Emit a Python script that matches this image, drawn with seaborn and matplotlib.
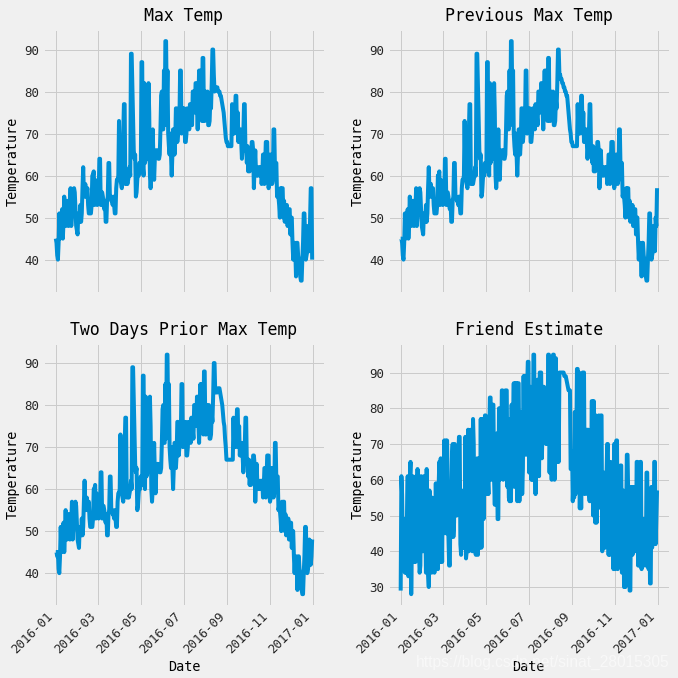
import matplotlib
matplotlib.use("Agg")
import matplotlib.pyplot as plt
import matplotlib.dates as mdates
import pandas as pd
import seaborn as sns

max_temp = [
45,44,41,40,44,51,45,48,50,52,
45,49,55,49,48,54,50,54,48,52,
52,57,48,51,54,56,57,56,52,48,
47,46,51,49,49,53,49,51,57,62,
56,55,58,55,56,57,53,51,51,51,
51,53,60,60,61,53,59,57,55,53,
57,55,64,64,53,56,56,55,53,52,
54,49,49,54,55,63,63,55,55,54,
54,53,55,53,51,51,57,59,59,60,
73,62,59,58,57,60,70,77,77,58,
58,59,58,59,60,62,60,89,89,81,
72,66,64,65,55,56,59,61,60,63,
63,61,87,87,62,60,82,63,64,66,
64,67,82,75,60,57,60,63,71,64,
59,64,66,66,65,66,64,64,65,71,
79,80,71,71,85,72,92,92,77,85,
70,67,65,70,65,60,65,71,71,65,
68,76,76,68,70,74,73,85,85,70,
73,76,73,76,68,68,70,76,72,74,
71,77,72,74,72,80,80,78,75,82,
82,76,71,77,85,74,85,77,73,88,
88,73,73,80,79,74,80,72,72,73,
78,76,82,90,90,84,80,81,81,81,
81,80,80,80,79,79,78,77,76,75,
73,71,69,68,68,67,67,67,67,67,
67,77,70,72,70,74,79,79,70,75,
68,71,68,71,68,64,67,70,77,77,
66,67,63,67,61,64,61,66,62,68,
68,66,57,62,66,61,60,62,60,61,
62,60,62,58,60,65,65,58,62,68,
68,68,59,57,58,65,60,65,58,59,
71,71,62,63,63,55,56,55,53,50,
57,52,57,57,50,54,49,53,50,53,
48,50,52,52,46,50,50,44,40,44,
44,42,36,44,44,41,40,38,36,35,
35,40,44,51,51,45,40,41,42,48,
46,42,50,57,57,40,
]

previous_max_temp = [
45,45,44,41,40,44,51,45,48,50,
52,45,49,55,49,48,54,50,54,48,
52,52,57,48,51,54,56,57,56,52,
48,47,46,51,49,49,53,49,51,57,
62,56,55,58,55,56,57,53,51,51,
51,51,53,60,60,61,53,59,57,55,
53,57,55,64,64,53,56,56,55,53,
52,54,49,49,54,55,63,63,55,55,
54,54,53,55,53,51,51,57,59,59,
60,73,62,59,58,57,60,70,77,77,
58,58,59,58,59,60,62,60,89,89,
81,72,66,64,65,55,56,59,61,60,
63,63,61,87,87,62,60,82,63,64,
66,64,67,82,75,60,57,60,63,71,
64,59,64,66,66,65,66,64,64,65,
71,79,80,71,71,85,72,92,92,77,
85,70,67,65,70,65,60,65,71,71,
65,68,76,76,68,70,74,73,85,85,
70,73,76,73,76,68,68,70,76,72,
74,71,77,72,74,72,80,80,78,75,
82,82,76,71,77,85,74,85,77,73,
88,88,73,73,80,79,74,80,72,72,
73,78,76,82,90,90,84,84,83,83,
82,82,81,81,80,80,79,79,77,75,
73,71,70,68,68,67,67,67,67,67,
67,67,77,70,72,70,74,79,79,70,
75,68,71,68,71,68,64,67,70,77,
77,66,67,63,67,61,64,61,66,62,
68,68,66,57,62,66,61,60,62,60,
61,62,60,62,58,60,65,65,58,62,
68,68,68,59,57,58,65,60,65,58,
59,71,71,62,63,63,55,56,55,53,
50,57,52,57,57,50,54,49,53,50,
53,48,50,52,52,46,50,50,44,40,
44,44,42,36,44,44,41,40,38,36,
35,35,40,44,51,51,45,40,41,42,
48,46,42,50,48,57,
]

two_days_prior_max_temp = [
45,45,44,45,41,40,44,51,45,48,
50,52,45,49,55,49,48,54,50,54,
48,52,52,57,48,51,54,56,57,56,
52,48,47,46,51,49,49,53,49,51,
57,62,56,55,58,55,56,57,53,51,
51,51,51,53,60,60,61,53,59,57,
55,53,57,55,64,64,53,56,56,55,
53,52,54,49,49,54,55,63,63,55,
55,54,54,53,55,53,51,51,57,59,
59,60,73,62,59,58,57,60,70,77,
77,58,58,59,58,59,60,62,60,89,
89,81,72,66,64,65,55,56,59,61,
60,63,63,61,87,87,62,60,82,63,
64,66,64,67,82,75,60,57,60,63,
71,64,59,64,66,66,65,66,64,64,
65,71,79,80,71,71,85,72,92,92,
77,85,70,67,65,70,65,60,65,71,
71,65,68,76,76,68,70,74,73,85,
85,70,73,76,73,76,68,68,70,76,
72,74,71,77,72,74,72,80,80,78,
75,82,82,76,71,77,85,74,85,77,
73,88,88,73,73,80,79,74,80,72,
72,73,78,76,82,90,90,83,83,83,
83,84,84,84,83,82,81,80,78,76,
75,72,70,67,67,67,67,67,67,67,
67,67,67,77,70,72,70,74,79,79,
70,75,68,71,68,71,68,64,67,70,
77,77,66,67,63,67,61,64,61,66,
62,68,68,66,57,62,66,61,60,62,
60,61,62,60,62,58,60,65,65,58,
62,68,68,68,59,57,58,65,60,65,
58,59,71,71,62,63,63,55,56,55,
53,50,57,52,57,57,50,54,49,53,
50,53,48,50,52,52,46,50,50,44,
40,44,44,42,36,44,44,41,40,38,
36,35,35,40,44,51,51,45,40,41,
42,48,46,42,44,48,
]

friend_estimate = [
29,61,56,41,38,49,34,45,34,50,
61,33,38,60,65,28,44,61,40,37,
54,37,61,45,63,51,40,34,36,61,
40,56,40,61,44,50,34,63,42,34,
30,57,48,40,34,55,38,48,34,40,
59,42,44,35,58,65,37,66,52,37,
60,45,71,48,71,45,71,60,44,36,
36,58,44,66,70,44,48,70,50,62,
50,57,66,72,72,42,39,57,46,41,
54,41,72,38,40,58,74,40,50,66,
74,42,40,77,70,46,40,39,62,66,
39,53,66,41,77,41,77,60,49,62,
78,78,56,63,60,56,70,83,83,60,
65,81,81,60,53,65,56,73,49,49,
80,60,73,61,85,85,60,72,66,85,
85,85,58,69,55,54,77,54,81,62,
75,87,58,87,70,87,54,87,87,54,
60,79,72,56,63,89,67,89,80,67,
85,93,93,62,70,86,60,72,60,95,
95,66,56,70,61,88,76,61,90,90,
90,66,74,86,86,75,78,70,81,70,
95,95,62,78,70,60,90,95,95,60,
88,94,75,65,80,65,90,90,90,90,
90,90,90,89,89,89,88,87,86,85,
85,85,63,63,68,54,60,55,79,56,
70,91,91,60,90,52,70,52,75,90,
90,90,56,74,60,74,56,74,57,54,
69,54,82,82,50,82,60,48,78,48,
70,52,78,54,70,78,78,40,52,50,
62,41,55,60,70,70,39,48,39,65,
50,42,60,35,70,35,70,71,71,35,
50,60,38,64,64,34,45,57,30,40,
30,50,67,67,55,50,29,29,58,45,
39,58,40,58,47,40,65,65,36,42,
36,65,65,35,49,38,36,49,42,36,
62,62,40,35,50,31,31,58,41,48,
42,65,65,42,50,57,
]

titles = ["Max Temp", "Previous Max Temp", "Two Days Prior Max Temp", "Friend Estimate"]
series = [max_temp, previous_max_temp, two_days_prior_max_temp, friend_estimate]
xlabels = ["", "", "Date", "Date"]
first_day = "2016-01-01"

plt.style.use("fivethirtyeight")
mono = ["DejaVu Sans Mono", "Liberation Mono"]
plt.rcParams["font.family"] = mono
plt.rcParams["axes.unicode_minus"] = False

fig, axes = plt.subplots(2, 2, figsize=(678 / 72, 678 / 72), dpi=72, sharex=True)
fig.subplots_adjust(left=0.0634, right=0.988, bottom=0.106, top=0.957, wspace=0.223, hspace=0.19)

for ax, title, values, xlabel in zip(axes.flat, titles, series, xlabels):
    dates = pd.date_range(first_day, periods=len(values), freq="D")
    frame = pd.DataFrame({"Date": dates, "Temperature": values})
    sns.lineplot(data=frame, x="Date", y="Temperature", ax=ax, color="#008fd5",
                 linewidth=4, estimator=None, errorbar=None)
    ax.set_title(title, fontsize=16.5, pad=8, color="black")
    ax.set_ylabel("Temperature", fontsize=13.5, labelpad=5, color="black")
    ax.set_xlabel(xlabel, fontsize=13.5, labelpad=4, color="black")
    ax.xaxis.set_major_locator(mdates.MonthLocator(bymonth=[1, 3, 5, 7, 9, 11]))
    ax.xaxis.set_major_formatter(mdates.DateFormatter("%Y-%m"))
    ax.tick_params(axis="both", labelsize=12.5, colors="#262626")
    ax.tick_params(axis="x", labelbottom=ax in axes[1])
    ax.set_yticks(range(40, 91, 10) if ax is not axes[1, 1] else range(30, 91, 10))
    ax.grid(True, color="#cbcbcb", linewidth=1.0)

for ax in axes[1]:
    for label in ax.get_xticklabels():
        label.set_rotation(45)
        label.set_ha("right")

fig.text(0.987, 0.0235, "https://blog.csdn.net/sinat_28015305", ha="right", va="center",
         fontsize=15.5, family="Liberation Sans", color="white", alpha=0.55)

fig.savefig("out.png", dpi=72, facecolor="#f0f0f0")
